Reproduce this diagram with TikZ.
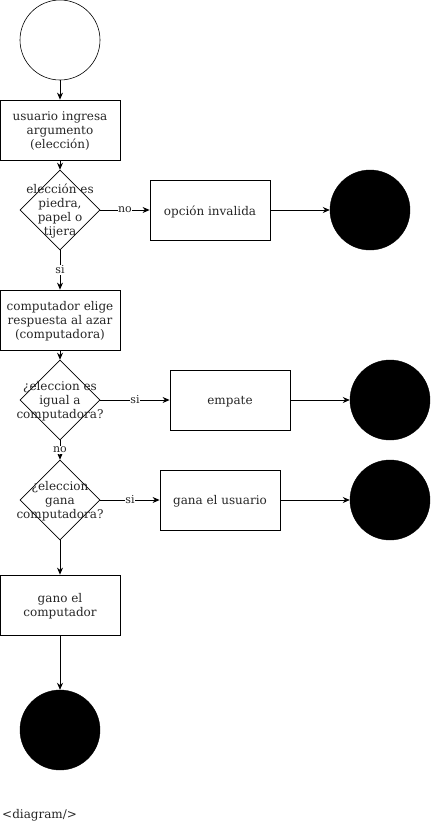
\documentclass[tikz,border=0pt]{standalone}
\usepackage{fontspec}
\setmainfont{DejaVu Serif}
\usetikzlibrary{shapes.geometric,arrows.meta}
\begin{document}
\begin{tikzpicture}[x=1pt,y=-1pt,
  every node/.style={font=\fontsize{12}{14}\selectfont, text=black!85},
  box/.style={draw, line width=0.8pt, minimum width=120pt, minimum height=60pt, inner sep=0pt},
  btext/.style={align=center, inner sep=0pt, yshift=-1.5pt},
  dia/.style={draw, line width=0.6pt, diamond, aspect=1, minimum width=80pt, minimum height=80pt, inner sep=0pt},
  endc/.style={circle, draw, fill=black, minimum size=80pt, inner sep=0pt},
  startc/.style={circle, draw, line width=0.6pt, fill=white, minimum size=80pt, inner sep=0pt},
  arr/.style={draw, line width=0.8pt, -{Stealth[length=7pt,width=6pt]}},
  elabel/.style={fill=white, inner sep=0.5pt, font=\fontsize{11}{13}\selectfont}
]
\useasboundingbox (0,0) rectangle (431,831);

\node[startc] (s) at (60,40) {};
\node[box] (b1) at (60,130) {};
\node[btext] (t1) at (b1) {usuario ingresa\\argumento\\(elección)};
\node[dia] (d1) at (60,210) {};
\node[btext] (t2) at (d1) {elección es\\piedra,\\papel o\\tijera};
\node[box] (inv) at (210,210) {};
\node[btext] (t3) at (inv) {opción invalida};
\node[endc] (e1) at (370,210) {};

\node[box] (b2) at (60,320) {};
\node[btext] (t4) at (b2) {computador elige\\respuesta al azar\\(computadora)};
\node[dia] (d2) at (60,400) {};
\node[btext] (t5) at (d2) {¿eleccion es\\igual a\\computadora?};
\node[box] (emp) at (230,400) {};
\node[btext] (t6) at (emp) {empate};
\node[endc] (e2) at (390,400) {};

\node[dia] (d3) at (60,500) {};
\node[btext] (t7) at (d3) {¿eleccion\\gana\\computadora?};
\node[box] (gana) at (220,500) {};
\node[btext] (t8) at (gana) {gana el usuario};
\node[endc] (e3) at (390,500) {};

\node[box] (b3) at (60,605) {};
\node[btext] (t9) at (b3) {gano el\\computador};
\node[endc] (e4) at (60,730) {};

\node[anchor=west, inner sep=0pt] (cap) at (2,815) {<diagram/>};

\path[arr] (s) -- (b1);
\path[arr] (b1) -- (d1.north);
\path[arr] (d1.east) -- node[elabel] {no} (inv);
\path[arr] (inv) -- (e1);
\path[arr] (d1.south) -- node[elabel] {si} (b2);
\path[arr] (b2) -- (d2.north);
\path[arr] (d2.east) -- node[elabel] {si} (emp);
\path[arr] (emp) -- (e2);
\path[arr] (d2.south) -- node[elabel] {no} (d3.north);
\path[arr] (d3.east) -- node[elabel] {si} (gana);
\path[arr] (gana) -- (e3);
\path[arr] (d3.south) -- (b3);
\path[arr] (b3) -- (e4);
\end{tikzpicture}
\end{document}
